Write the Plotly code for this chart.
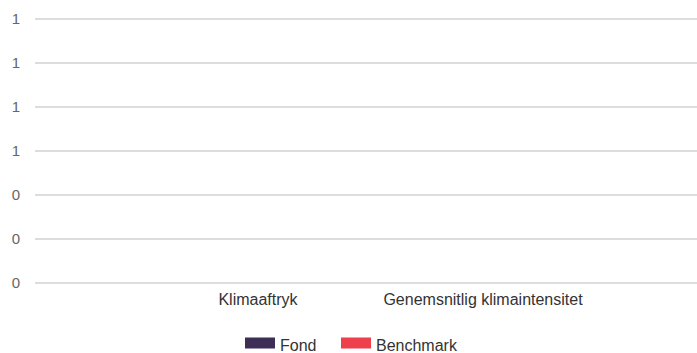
import plotly.graph_objects as go

# Categories and series (no values reported yet for either series)
categories = ["Klimaaftryk", "Genemsnitlig klimaintensitet"]
fond_values = [None, None]
benchmark_values = [None, None]

series_names = ["Fond", "Benchmark"]
series_colors = ["#3d2e56", "#ee3f4d"]

y_ticks = [0, 0.2, 0.4, 0.6, 0.8, 1.0, 1.2]

FONT = "Liberation Sans, Arial, sans-serif"
legend_ids = ["legend", "legend2"]
legend_x = [240 / 697, 336 / 697]

fig = go.Figure()

for name, vals, color, lg in zip(series_names, [fond_values, benchmark_values],
                                  series_colors, legend_ids):
    fig.add_trace(go.Bar(
        x=categories, y=vals, name=name, marker_color=color,
        legendgroup=name, showlegend=False,
    ))
    # wide rectangular legend swatch (line + fill icon)
    fig.add_trace(go.Scatter(
        x=[None], y=[None], mode="lines", name=name, fill="toself",
        fillcolor=color, line=dict(color=color, width=10),
        legendgroup=name, legend=lg,
    ))

legend_style = dict(
    orientation="h", xref="container", xanchor="left",
    yref="container", y=0.024, yanchor="middle",
    font=dict(family=FONT, size=16, color="#333333"),
    itemwidth=30, tracegroupgap=0, bgcolor="rgba(0,0,0,0)",
)

fig.update_layout(
    width=697, height=353,
    margin=dict(l=35, r=0, t=18, b=69),
    paper_bgcolor="white", plot_bgcolor="white",
    font=dict(family=FONT, size=16, color="#333333"),
    barmode="group",
    showlegend=True,
    legend=dict(x=legend_x[0], **legend_style),
    legend2=dict(x=legend_x[1], **legend_style),
    xaxis=dict(
        type="category", range=[-0.991, 1.951],
        showgrid=False, zeroline=False, showline=False,
        tickfont=dict(family=FONT, size=16, color="#333333"),
        ticks="", ticklabelstandoff=4,
    ),
    yaxis=dict(
        range=[-0.005, 1.205], tickvals=y_ticks, tickformat=".0f",
        showgrid=True, gridcolor="#dddddd", gridwidth=2,
        zeroline=False, showline=False,
        tickfont=dict(family=FONT, size=15, color="#666666"),
        ticks="", ticklabelstandoff=14,
    ),
)

fig.write_html("out.html")
